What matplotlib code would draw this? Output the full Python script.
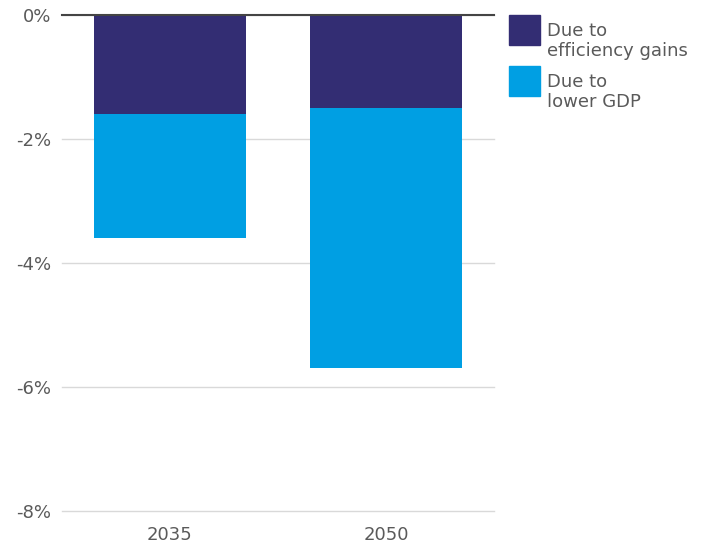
import numpy as np
import matplotlib.pyplot as plt
from matplotlib.patches import Rectangle
from matplotlib.ticker import FuncFormatter

years = ["2035", "2050"]
efficiency = [-1.6, -1.5]
lower_gdp = [-2.0, -4.2]
labels = ["Due to\nefficiency gains", "Due to\nlower GDP"]

navy = "#332d73"
blue = "#009fe3"
txt = "#5a5a5a"

plt.rcParams["font.family"] = ["DejaVu Sans"]

W, H = 711, 547
fig = plt.figure(figsize=(W / 100, H / 100), dpi=100)
ax = fig.add_axes([62 / W, 1 - 511 / H, 432 / W, 496 / H])

x = np.arange(len(years))
w = 0.704
ax.bar(x, efficiency, w, color=navy, zorder=2)
ax.bar(x, lower_gdp, w, bottom=efficiency, color=blue, zorder=2)

ax.set_xlim(-0.5, 1.5)
ax.set_ylim(-8, 0)
ax.set_yticks([0, -2, -4, -6, -8])
ax.yaxis.set_major_formatter(FuncFormatter(lambda v, p: f"{v:.0f}%"))
ax.set_xticks(x)
ax.set_xticklabels(years)
ax.grid(axis="y", color="#d9d9d9", lw=1, zorder=0)
for gl in ax.get_ygridlines():
    gl.set_clip_on(False)
ax.axhline(0, color="#444444", lw=1.5, zorder=3, clip_on=False)
for s in ax.spines.values():
    s.set_visible(False)
ax.tick_params(length=0, labelsize=13, colors=txt, pad=8)
ax.tick_params(axis="x", pad=11)

# legend boxes drawn by hand to match the original layout
for i, (c, lab) in enumerate(zip([navy, blue], labels)):
    top = 15 + i * 51
    fig.patches.append(Rectangle((509 / W, 1 - (top + 30) / H), 31 / W, 30 / H,
                                 transform=fig.transFigure, color=c))
    fig.text(547 / W, 1 - (top + 7) / H, lab, fontsize=13, color=txt,
             va="top", ha="left", linespacing=1.15)

fig.savefig("out.png", dpi=100)
